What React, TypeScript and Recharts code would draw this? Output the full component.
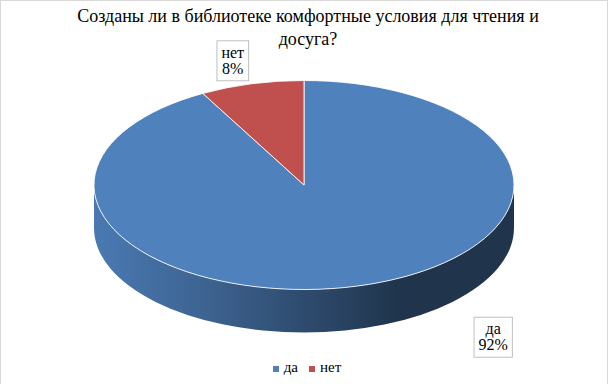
import { PieChart, Pie, Legend } from "recharts";

// data
const categories = ["да", "нет"];
const shares = [92, 8];
const sliceColors = ["#4f81bd", "#c0504d"];
const titleLines = ["Созданы ли в библиотеке комфортные условия для чтения и", "досуга?"];

const pieData = categories.map((name, i) => ({ name, value: shares[i], fill: sliceColors[i] }));

// layout of the fake 3D disc
const DEPTH = 43;
const RY_RATIO = 104.5 / 210;
const FONT = "'Liberation Serif', 'Times New Roman', serif";

// where Excel's "best fit" dropped each label, relative to the slice edge
const labelNudge: Record<string, [number, number]> = {
    "да": [137, 8],
    "нет": [-19, -23],
};

const rad = (d: number) => (d * Math.PI) / 180;
const pt = (cx: number, cy: number, rx: number, ry: number, deg: number): [number, number] => [
    cx + rx * Math.cos(rad(deg)),
    cy - ry * Math.sin(rad(deg)),
];

const shade = (hex: string, k: number) => {
    const n = parseInt(hex.slice(1), 16);
    const c = [(n >> 16) & 255, (n >> 8) & 255, n & 255].map((v) => Math.round(v * k));
    return `rgb(${c[0]},${c[1]},${c[2]})`;
};

let measureCtx: CanvasRenderingContext2D | null = null;
const textWidth = (s: string, size: number) => {
    if (!measureCtx) measureCtx = document.createElement("canvas").getContext("2d");
    if (!measureCtx) return s.length * size * 0.5;
    measureCtx.font = `${size}px ${FONT}`;
    return measureCtx.measureText(s).width;
};

const Slice3D = (props: any) => {
    const { cx, cy, outerRadius, startAngle, endAngle, fill, index } = props;
    const rx = outerRadius;
    const ry = outerRadius * RY_RATIO;
    const lo = Math.min(startAngle, endAngle);
    const hi = Math.max(startAngle, endAngle);

    // visible front wall = parts of the slice in the lower half of the ellipse
    const walls: [number, number][] = [];
    for (let k = -2; k <= 2; k++) {
        const a = Math.max(lo, -180 + 360 * k);
        const b = Math.min(hi, 360 * k);
        if (b > a) walls.push([a, b]);
    }
    const gid = `side-${index}`;

    let top: string;
    if (hi - lo >= 359.99) {
        top = `M${cx - rx},${cy} A${rx},${ry} 0 1 1 ${cx + rx},${cy} A${rx},${ry} 0 1 1 ${cx - rx},${cy} Z`;
    } else {
        const [x1, y1] = pt(cx, cy, rx, ry, startAngle);
        const [x2, y2] = pt(cx, cy, rx, ry, endAngle);
        const large = hi - lo > 180 ? 1 : 0;
        const sweep = startAngle > endAngle ? 1 : 0;
        top = `M${cx},${cy} L${x1},${y1} A${rx},${ry} 0 ${large} ${sweep} ${x2},${y2} Z`;
    }

    return (
        <g>
            <defs>
                <linearGradient id={gid} gradientUnits="userSpaceOnUse" x1={cx - rx} y1={0} x2={cx + rx} y2={0}>
                    <stop offset="0%" stopColor={shade(fill, 0.94)} />
                    <stop offset="25%" stopColor={shade(fill, 0.78)} />
                    <stop offset="50%" stopColor={shade(fill, 0.58)} />
                    <stop offset="72%" stopColor={shade(fill, 0.41)} />
                    <stop offset="100%" stopColor={shade(fill, 0.4)} />
                </linearGradient>
            </defs>
            {walls.map(([a, b], i) => {
                const [ax, ay] = pt(cx, cy, rx, ry, a);
                const [bx, by] = pt(cx, cy, rx, ry, b);
                const d = `M${ax},${ay} A${rx},${ry} 0 0 0 ${bx},${by} L${bx},${by + DEPTH} A${rx},${ry} 0 0 1 ${ax},${ay + DEPTH} Z`;
                return <path key={i} d={d} fill={`url(#${gid})`} />;
            })}
            <path d={top} fill={fill} stroke="#ffffff" strokeWidth={1} strokeOpacity={0.85} />
        </g>
    );
};

const renderLabel = (props: any) => {
    const { cx, cy, outerRadius, startAngle, endAngle, name, percent } = props;
    const mid = props.midAngle ?? (startAngle + endAngle) / 2;
    const rx = outerRadius;
    const ry = outerRadius * RY_RATIO;
    let [ax, ay] = pt(cx, cy, rx, ry, mid);
    if (Math.sin(rad(mid)) < 0) ay += DEPTH;
    const [nx, ny] = labelNudge[name] ?? [0, 0];
    const lines = [name, `${Math.round(percent * 100)}%`];
    const w = Math.max(...lines.map((l) => textWidth(l, 16))) + 9;
    const h = 40;
    const x = ax + nx - w / 2;
    const y = ay + ny - h / 2;
    return (
        <g>
            <rect x={x} y={y} width={w} height={h} fill="#ffffff" stroke="#bfbfbf" strokeWidth={1} />
            {lines.map((l, i) => (
                <text key={i} x={x + w / 2} y={y + 17 + i * 16} textAnchor="middle" fontFamily={FONT} fontSize={16} fill="#000">
                    {l}
                </text>
            ))}
        </g>
    );
};

const renderLegend = (props: any) => {
    const items = props.payload ?? [];
    return (
        <div style={{ display: "flex", justifyContent: "center", fontFamily: FONT, fontSize: 15, lineHeight: "18px", color: "#000" }}>
            {items.map((it: any, i: number) => (
                <span key={i} style={{ marginRight: i < items.length - 1 ? 11 : 0 }}>
                    <span
                        style={{
                            display: "inline-block",
                            width: 6,
                            height: 6,
                            background: it.color,
                            marginRight: 5,
                            verticalAlign: "middle",
                        }}
                    />
                    {it.value}
                </span>
            ))}
        </div>
    );
};

export default function App() {
    return (
        <div
            style={{
                position: "absolute",
                left: 0,
                top: 0,
                width: 608,
                height: 384,
                boxSizing: "border-box",
                border: "1px solid #d9d9d9",
                borderBottom: "none",
                background: "#fff",
            }}
        >
            <div
                style={{
                    position: "absolute",
                    left: 6,
                    top: 4,
                    width: 602,
                    textAlign: "center",
                    fontFamily: FONT,
                    fontSize: 18,
                    lineHeight: "23px",
                    color: "#000",
                }}
            >
                {titleLines.map((l, i) => (
                    <div key={i}>{l}</div>
                ))}
            </div>
            <div style={{ position: "absolute", left: -1, top: -1 }}>
                <PieChart width={609} height={384} margin={{ top: 0, right: 0, bottom: 0, left: 0 }}>
                    <Pie
                        data={pieData}
                        dataKey="value"
                        nameKey="name"
                        cx={304}
                        cy={185}
                        outerRadius={210}
                        startAngle={90}
                        endAngle={-270}
                        shape={Slice3D}
                        label={renderLabel}
                        labelLine={false}
                        stroke="none"
                        isAnimationActive={false}
                    />
                    <Legend
                        content={renderLegend}
                        wrapperStyle={{ position: "absolute", left: 0, top: 358, bottom: "auto", width: 614 }}
                    />
                </PieChart>
            </div>
        </div>
    );
}
